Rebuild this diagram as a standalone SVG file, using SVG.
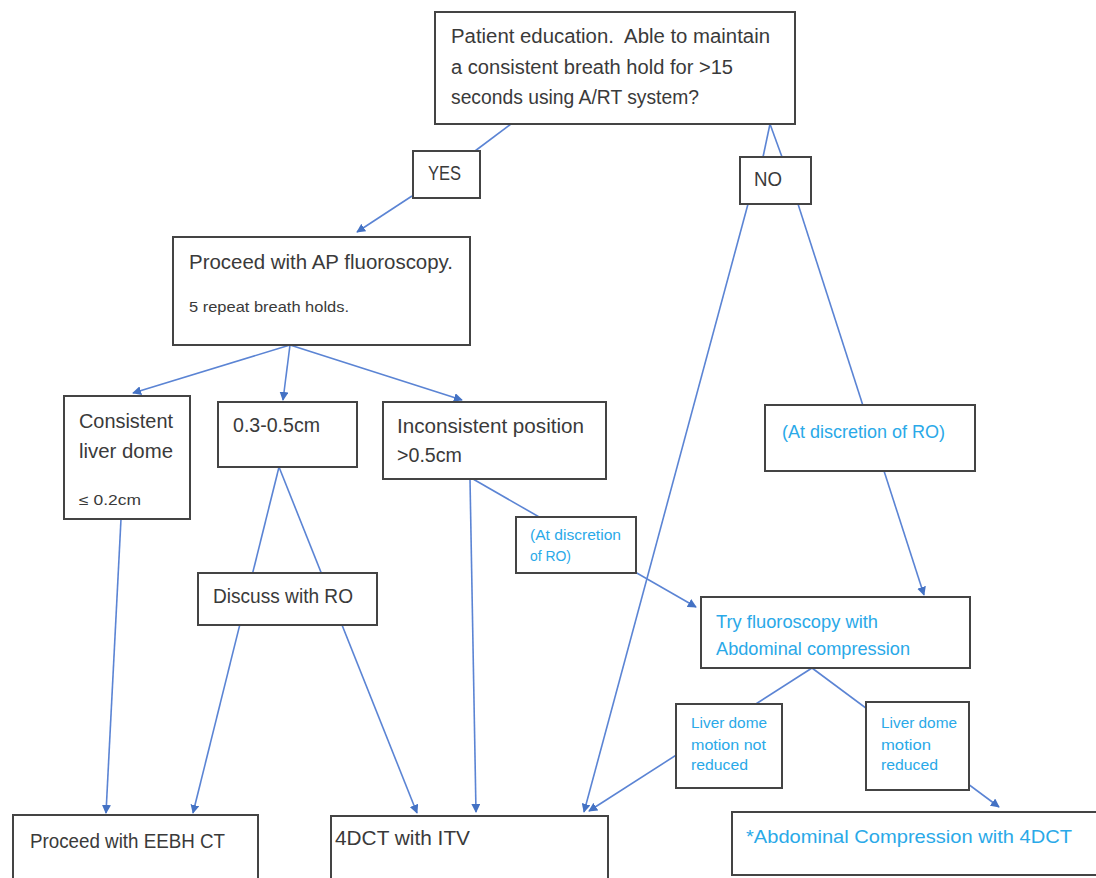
<svg xmlns="http://www.w3.org/2000/svg" width="1096" height="878" viewBox="0 0 1096 878">
<defs>
<marker id="arr" viewBox="0 0 10 10" refX="9" refY="5" markerWidth="9" markerHeight="9" markerUnits="userSpaceOnUse" orient="auto">
<path d="M0,0 L10,5 L0,10 z" fill="#4472c4"/>
</marker>
<style>
.box{fill:#fff;stroke:#444;stroke-width:2}
.ln{stroke:#5b84d4;stroke-width:1.6;fill:none}
.a{marker-end:url(#arr)}
.t{font-family:"Liberation Sans",Arial,sans-serif;font-size:20px;fill:#3a3a3a}
.s{font-family:"Liberation Sans",Arial,sans-serif;font-size:14px;fill:#3a3a3a}
.b{font-family:"Liberation Sans",Arial,sans-serif;font-size:19px;fill:#2aa9e8}
.bs{font-family:"Liberation Sans",Arial,sans-serif;font-size:15px;fill:#2aa9e8}
</style>
</defs>
<rect width="1096" height="878" fill="#fff"/>
<g id="connectors">
<line class="ln" x1="511" y1="124" x2="475" y2="151"/>
<line class="ln a" x1="412" y1="196" x2="357" y2="232"/>
<line class="ln" x1="770" y1="124" x2="763" y2="157"/>
<line class="ln" x1="770" y1="124" x2="782" y2="157"/>
<line class="ln a" x1="748" y1="204" x2="584" y2="812"/>
<line class="ln a" x1="798" y1="204" x2="924" y2="595"/>
<line class="ln a" x1="290" y1="345" x2="133" y2="393"/>
<line class="ln a" x1="290" y1="345" x2="283" y2="400"/>
<line class="ln a" x1="290" y1="345" x2="462" y2="400"/>
<line class="ln a" x1="121" y1="519" x2="106" y2="813"/>
<line class="ln a" x1="279" y1="467" x2="193" y2="813"/>
<line class="ln a" x1="279" y1="467" x2="417" y2="813"/>
<line class="ln a" x1="470" y1="479" x2="476" y2="812"/>
<line class="ln a" x1="473" y1="479" x2="696" y2="607"/>
<line class="ln a" x1="812" y1="668" x2="589" y2="811"/>
<line class="ln a" x1="812" y1="668" x2="999" y2="807"/>
</g>
<g id="n_top"><rect class="box" x="435" y="12" width="360" height="112"/>
<text class="t" x="451" y="43" textLength="319" lengthAdjust="spacingAndGlyphs">Patient education.&#160; Able to maintain</text>
<text class="t" x="451" y="74" textLength="282" lengthAdjust="spacingAndGlyphs">a consistent breath hold for &gt;15</text>
<text class="t" x="451" y="104" textLength="248" lengthAdjust="spacingAndGlyphs">seconds using A/RT system?</text></g>
<g id="n_yes"><rect class="box" x="413" y="151" width="67" height="47"/>
<text class="t" x="428" y="180" textLength="33" lengthAdjust="spacingAndGlyphs">YES</text></g>
<g id="n_no"><rect class="box" x="740" y="157" width="71" height="47"/>
<text class="t" x="754" y="186" textLength="28" lengthAdjust="spacingAndGlyphs">NO</text></g>
<g id="n_ap"><rect class="box" x="173" y="237" width="297" height="108"/>
<text class="t" x="189" y="269" textLength="264" lengthAdjust="spacingAndGlyphs">Proceed with AP fluoroscopy.</text>
<text class="s" x="189" y="312" textLength="160" lengthAdjust="spacingAndGlyphs">5 repeat breath holds.</text></g>
<g id="n_consistent"><rect class="box" x="64" y="396" width="126" height="123"/>
<text class="t" x="79" y="428" textLength="94" lengthAdjust="spacingAndGlyphs">Consistent</text>
<text class="t" x="79" y="458" textLength="94" lengthAdjust="spacingAndGlyphs">liver dome</text>
<text class="s" x="79" y="505" textLength="62" lengthAdjust="spacingAndGlyphs">≤ 0.2cm</text></g>
<g id="n_mid"><rect class="box" x="218" y="402" width="139" height="65"/>
<text class="t" x="233" y="432" textLength="87" lengthAdjust="spacingAndGlyphs">0.3-0.5cm</text></g>
<g id="n_incons"><rect class="box" x="383" y="402" width="223" height="77"/>
<text class="t" x="397" y="433" textLength="187" lengthAdjust="spacingAndGlyphs">Inconsistent position</text>
<text class="t" x="397" y="462" textLength="65" lengthAdjust="spacingAndGlyphs">&gt;0.5cm</text></g>
<g id="n_discuss"><rect class="box" x="198" y="573" width="179" height="52"/>
<text class="t" x="213" y="603" textLength="140" lengthAdjust="spacingAndGlyphs">Discuss with RO</text></g>
<g id="n_disc_small"><rect class="box" x="516" y="517" width="120" height="56"/>
<text class="bs" x="530" y="540" textLength="91" lengthAdjust="spacingAndGlyphs">(At discretion</text>
<text class="bs" x="530" y="561" textLength="41" lengthAdjust="spacingAndGlyphs">of RO)</text></g>
<g id="n_disc_large"><rect class="box" x="765" y="405" width="210" height="66"/>
<text class="b" x="782" y="438" textLength="163" lengthAdjust="spacingAndGlyphs">(At discretion of RO)</text></g>
<g id="n_try"><rect class="box" x="701" y="597" width="269" height="71"/>
<text class="b" x="716" y="628" textLength="162" lengthAdjust="spacingAndGlyphs">Try fluoroscopy with</text>
<text class="b" x="716" y="655" textLength="194" lengthAdjust="spacingAndGlyphs">Abdominal compression</text></g>
<g id="n_notred"><rect class="box" x="676" y="704" width="106" height="84"/>
<text class="bs" x="691" y="728" textLength="76" lengthAdjust="spacingAndGlyphs">Liver dome</text>
<text class="bs" x="691" y="750" textLength="75" lengthAdjust="spacingAndGlyphs">motion not</text>
<text class="bs" x="691" y="770" textLength="57" lengthAdjust="spacingAndGlyphs">reduced</text></g>
<g id="n_red"><rect class="box" x="866" y="702" width="103" height="88"/>
<text class="bs" x="881" y="728" textLength="76" lengthAdjust="spacingAndGlyphs">Liver dome</text>
<text class="bs" x="881" y="750" textLength="50" lengthAdjust="spacingAndGlyphs">motion</text>
<text class="bs" x="881" y="770" textLength="57" lengthAdjust="spacingAndGlyphs">reduced</text></g>
<g id="n_eebh"><rect class="box" x="13" y="815" width="245" height="80"/>
<text class="t" x="30" y="848" textLength="195" lengthAdjust="spacingAndGlyphs">Proceed with EEBH CT</text></g>
<g id="n_4dct"><rect class="box" x="331" y="816" width="277" height="80"/>
<text class="t" x="335" y="845" textLength="135" lengthAdjust="spacingAndGlyphs">4DCT with ITV</text></g>
<g id="n_abd"><rect class="box" x="732" y="812" width="380" height="63"/>
<text class="b" x="746" y="843" textLength="326" lengthAdjust="spacingAndGlyphs">*Abdominal Compression with 4DCT</text></g>
</svg>
